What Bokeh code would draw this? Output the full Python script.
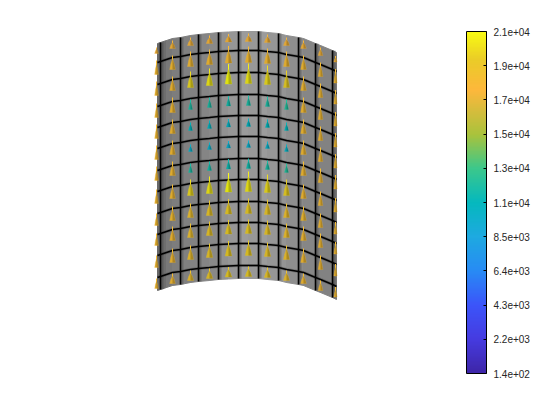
from bokeh.plotting import figure
from bokeh.models import LinearColorMapper, ColorBar, FixedTicker, ColumnDataSource, Range1d
from bokeh.embed import file_html
from bokeh.resources import INLINE
import numpy as np

# mesh of the curved plate
mesh_u = [157,160,166,172,180,190,198,209,218,228,238,248,258,267,278,286,298,303,315,320,332,336]
sag    = [ 12, 11,  9,  7,  6,  4,  3,  2,  1,0.5,  0,  0,  0,  1,  2,  4,  6,  7, 12, 14, 19, 21]
shade  = [105,110,120,125,128,130,133,137,145,150,155,152,155,150,148,142,138,134,128,130,118,105]
grid_u = [160,180,198,218,238,258,278,298,315,332]
grid_v = [50,72,94,115,136,158,179,201,222,243,265]
edge_v = [31,278]

# arrows
arrow_u = [156,172,190,209,228,248,267,286,303,320,335]
arrow_w = [1.8,2.8,3.0,3.2,3.3,3.3,3.2,3.0,2.8,2.3,1.6]
arrow_v = [41,62,83,105,126,147,168,191,213,233,255,276]
magnitude = [
 [17300]*11,
 [18000]*11,
 [18000,18000,19900,20500,21000,20500,20000,19500,18000,18000,18000],
 [18000,18000,11500,11500,11300,11500,11500,11800,18000,18000,18000],
 [18000,18000,10500,10300,10000,10300,10500,10600,18000,18000,18000],
 [18000,18000,9800,9700,9500,9600,9800,10000,18000,18000,18000],
 [18000,18000,11500,11300,11000,11200,11500,11800,18000,18000,18000],
 [18000,18000,19900,20500,21000,20500,20000,19500,18000,18000,18000],
 [18000,18200,18500,19000,19300,19300,19000,18500,18200,18000,18000],
 [18000,18000,18500,19000,19300,19300,19000,18500,18000,18000,18000],
 [18000,18000,18500,19000,19300,19300,19000,18500,18000,18000,18000],
 [18000,18000,18500,19000,19300,19300,19000,18500,18000,18000,18000],
]
arrow_len = [
 [6,8,8,8,8,8,8,8,8,8,6],
 [14,14,15,15,17,16,15,15,14,14,14],
 [14,14,16,17,20,20,19,17,14,14,14],
 [14,15,10,10,10,10,10,10,15,15,14],
 [14,14,8,8,8,8,8,8,14,14,14],
 [14,14,7,7,7,7,7,7,14,14,14],
 [14,14,9,9,10,10,9,9,14,14,14],
 [14,14,16,17,19,20,18,16,14,14,14],
 [12,14,14,15,15,15,15,14,14,14,12],
 [12,14,14,14,14,14,14,14,14,14,12],
 [12,14,14,14,15,15,14,14,14,14,12],
 [10,10,10,10,10,10,10,10,10,10,10],
]

# colour map
cmap_pos = [0,.1,.2,.3,.4,.5,.6,.7,.83,.92,1]
cmap_r = [62,70,60,40,30,5,60,170,254,235,249]
cmap_g = [38,60,85,140,170,185,200,195,184,205,251]
cmap_b = [168,225,250,245,225,190,140,60,60,40,20]
tick_vals = [140,2226,4312,6398,8484,10570,12656,14742,16828,18914,21000]
tick_labels = ["1.4e+02","2.2e+03","4.3e+03","6.4e+03","8.5e+03","1.1e+04","1.3e+04","1.5e+04","1.7e+04","1.9e+04","2.1e+04"]

f = np.linspace(0,1,256)
palette = ["#%02x%02x%02x"%(int(r),int(g),int(b)) for r,g,b in zip(np.interp(f,cmap_pos,cmap_r),np.interp(f,cmap_pos,cmap_g),np.interp(f,cmap_pos,cmap_b))]
mapper = LinearColorMapper(palette=palette, low=tick_vals[0], high=tick_vals[-1])

p = figure(width=544, height=404, output_backend="svg", toolbar_location=None,
           x_range=Range1d(0,544), y_range=Range1d(404,0), min_border=0,
           outline_line_color=None)
p.xaxis.visible = False
p.yaxis.visible = False
p.grid.visible = False

off = lambda u: float(np.interp(u, mesh_u, sag))
xs, ys, cols = [], [], []
for i in range(len(mesh_u)-1):
    u0,u1 = mesh_u[i],mesh_u[i+1]
    xs.append([u0,u1,u1,u0])
    ys.append([edge_v[0]+sag[i],edge_v[0]+sag[i+1],edge_v[1]+sag[i+1],edge_v[1]+sag[i]])
    g = int(shade[i]); cols.append("#%02x%02x%02x"%(g,g,g))
p.patches(xs,ys,fill_color=cols,line_color=cols,line_width=1)

# grid lines with their soft shadow
lx = [mesh_u for _ in grid_v]
ly = [[v+s for s in sag] for v in grid_v]
sx = [[u+1.5,u+1.5] for u in grid_u]
vy = [[edge_v[0]+off(u),edge_v[1]+off(u)] for u in grid_u]
p.multi_line(sx,vy,line_color="#303030",line_width=3,line_alpha=0.3)
p.multi_line(lx,ly,line_color="#404040",line_width=3,line_alpha=0.35)
vx = [[u,u] for u in grid_u]
p.multi_line(lx,ly,line_color="black",line_width=1.6)
p.multi_line(vx,vy,line_color="black",line_width=1.6)

# arrows
tx,ty,tc,sx0,sy0,sy1,sc,dx,dy=[],[],[],[],[],[],[],[],[]
for r,v in enumerate(arrow_v):
    for c,u in enumerate(arrow_u):
        b = v+off(u); L = arrow_len[r][c]
        m = magnitude[r][c]
        hw = arrow_w[c]*(1 if m>15000 else 0.65)
        tx.append([u-hw,u+hw,u+0.6*hw,u,u-0.6*hw]); ty.append([b,b,b-L*0.4,b-L*0.75,b-L*0.4]); tc.append(m)
        dx.append([u,u+hw,u+0.6*hw,u]); dy.append([b,b,b-L*0.4,b-L*0.75])
        sx0.append(u); sy0.append(b-L*0.6); sy1.append(b-L); sc.append(m)
tip = ColumnDataSource(dict(x=sx0,y0=sy0,y1=sy1,m=sc))
p.segment("x","y0","x","y1",line_color={"field":"m","transform":mapper},line_width=1,source=tip)
p.patches("xs","ys",fill_color={"field":"m","transform":mapper},line_color={"field":"m","transform":mapper},line_width=0.3,
          source=ColumnDataSource(dict(xs=tx,ys=ty,m=tc)))
p.patches(tx,ty,fill_color="black",fill_alpha=0.1,line_color=None)
p.patches(dx,dy,fill_color="black",fill_alpha=0.22,line_color=None)

cb = ColorBar(color_mapper=mapper, ticker=FixedTicker(ticks=tick_vals),
              major_label_overrides={t:l for t,l in zip(tick_vals,tick_labels)},
              width=20,height=342,location=(466,31),padding=0,
              bar_line_color="black",bar_line_width=1,
              major_tick_line_color="black",major_tick_in=3,major_tick_out=0,
              minor_tick_line_color=None,background_fill_alpha=0,border_line_color=None,
              label_standoff=7,major_label_text_font="Liberation Sans",
              major_label_text_font_size="10px",major_label_text_color="#262626")
p.add_layout(cb)
open("out.html","w").write(file_html(p,INLINE))
